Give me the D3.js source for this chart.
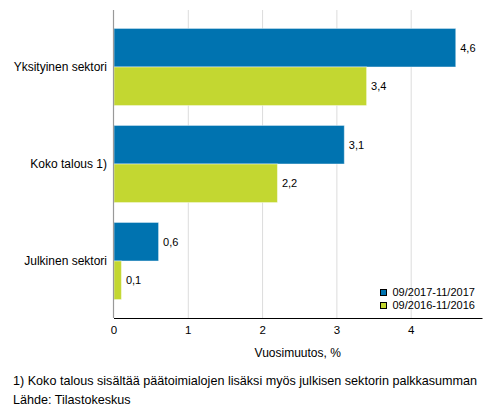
<!DOCTYPE html>
<html>
<head>
<meta charset="utf-8">
<script src="https://cdn.jsdelivr.net/npm/d3@7"></script>
<style>
  body { margin: 0; background: #fff; }
  svg { font-family: "Liberation Sans", Arial, sans-serif; display: block; }
</style>
</head>
<body>
<div id="chart"></div>
<script>
const categories = ["Yksityinen sektori", "Koko talous 1)", "Julkinen sektori"];
const seriesNames = ["09/2017-11/2017", "09/2016-11/2016"];
const values2017 = [4.6, 3.1, 0.6];
const values2016 = [3.4, 2.2, 0.1];
const xTicks = [0, 1, 2, 3, 4];
const xTitle = "Vuosimuutos, %";
const footnotes = [
    "1) Koko talous sisältää päätoimialojen lisäksi myös julkisen sektorin palkkasumman",
    "Lähde: Tilastokeskus"
];

const width = 493;
const height = 416;
const colors = ["#0073b0", "#c3d731"];

const plot = { left: 113.5, right: 482, top: 10, bottom: 318 };

const rows = categories.map((c, i) => ({ name: c, values: [values2017[i], values2016[i]] }));

const svg = d3.select("#chart")
    .append("svg")
    .attr("width", width)
    .attr("height", height);

const x = d3.scaleLinear()
    .domain([0, 4.96])
    .range([plot.left, plot.right]);

const y = d3.scaleBand()
    .domain(categories)
    .range([plot.top, plot.bottom])
    .paddingInner(0.205)
    .paddingOuter(0.19);

const ySub = d3.scaleBand()
    .domain(d3.range(seriesNames.length))
    .range([0, y.bandwidth()]);

// gridlines
svg.append("g")
    .selectAll("line")
    .data(xTicks.slice(1))
    .join("line")
    .attr("x1", d => x(d) + 0.5)
    .attr("x2", d => x(d) + 0.5)
    .attr("y1", plot.top)
    .attr("y2", plot.bottom)
    .attr("stroke", "#dcdcdc")
    .attr("stroke-width", 1);

// bars
const group = svg.append("g")
    .selectAll("g")
    .data(rows)
    .join("g")
    .attr("transform", d => `translate(0,${y(d.name)})`);

group.selectAll("rect")
    .data(d => d.values)
    .join("rect")
    .attr("x", x(0) + 0.5)
    .attr("y", (d, i) => ySub(i))
    .attr("width", d => x(d) - x(0))
    .attr("height", ySub.bandwidth())
    .attr("fill", (d, i) => colors[i])
    .attr("stroke", "rgba(255,255,255,0.45)")
    .attr("stroke-width", 1);

group.selectAll("text")
    .data(d => d.values)
    .join("text")
    .attr("x", d => x(d) + 5)
    .attr("y", (d, i) => ySub(i) + ySub.bandwidth() / 2)
    .attr("dy", "0.35em")
    .attr("font-size", 11)
    .attr("fill", "#000")
    .text(d => d3.format(".1f")(d).replace(".", ","));

// left axis line
svg.append("line")
    .attr("x1", plot.left)
    .attr("x2", plot.left)
    .attr("y1", plot.top)
    .attr("y2", plot.bottom)
    .attr("stroke", "#999")
    .attr("stroke-width", 1.2);

// category labels
svg.append("g")
    .selectAll("text")
    .data(categories)
    .join("text")
    .attr("x", 107)
    .attr("y", d => y(d) + y.bandwidth() / 2)
    .attr("dy", "0.35em")
    .attr("text-anchor", "end")
    .attr("font-size", 12)
    .text(d => d);

// x axis
const xAxis = svg.append("g")
    .attr("transform", `translate(0,${plot.bottom})`)
    .call(d3.axisBottom(x).tickValues(xTicks).tickFormat(d3.format("d")).tickSize(0).tickPadding(8));
xAxis.select(".domain").attr("stroke", "#000").attr("stroke-width", 1.2);
xAxis.selectAll("text")
    .attr("font-size", 11.5)
    .attr("font-family", "\"Liberation Sans\", Arial, sans-serif")
    .attr("fill", "#000");

svg.append("text")
    .attr("x", (plot.left + plot.right) / 2)
    .attr("y", 353)
    .attr("dy", "0.35em")
    .attr("text-anchor", "middle")
    .attr("font-size", 12)
    .text(xTitle);

// legend
const legend = svg.append("g")
    .selectAll("g")
    .data(seriesNames)
    .join("g")
    .attr("transform", (d, i) => `translate(380.5,${289.5 + i * 13})`);

legend.append("rect")
    .attr("width", 6)
    .attr("height", 6)
    .attr("fill", (d, i) => colors[i])
    .attr("stroke", "#000")
    .attr("stroke-width", 1);

legend.append("text")
    .attr("x", 12)
    .attr("y", 3)
    .attr("dy", "0.35em")
    .attr("font-size", 11)
    .text(d => d);

// footnotes
svg.append("g")
    .selectAll("text")
    .data(footnotes)
    .join("text")
    .attr("x", 13)
    .attr("y", (d, i) => 381 + i * 19)
    .attr("dy", "0.35em")
    .attr("font-size", 12.6)
    .text(d => d);
</script>
</body>
</html>
